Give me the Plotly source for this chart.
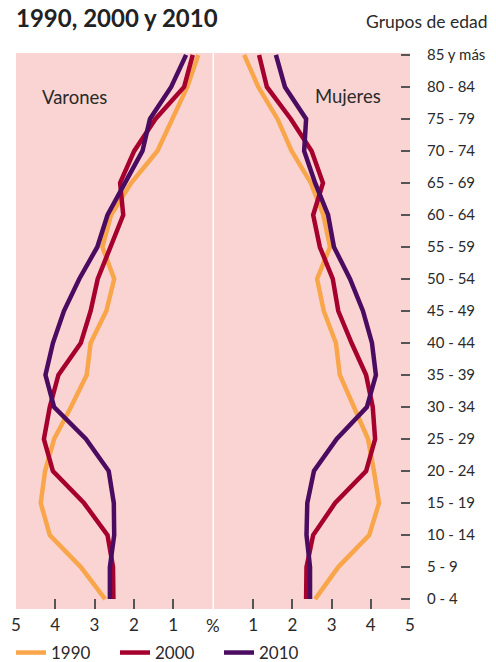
import plotly.graph_objects as go

# grupos de edad (de abajo hacia arriba)
grupos = ['0 - 4', '5 - 9', '10 - 14', '15 - 19', '20 - 24', '25 - 29', '30 - 34',
          '35 - 39', '40 - 44', '45 - 49', '50 - 54', '55 - 59', '60 - 64',
          '65 - 69', '70 - 74', '75 - 79', '80 - 84', '85 y más']

# porcentajes
varones_1990 = [2.73, 3.35, 4.14, 4.37, 4.26, 4.03, 3.60, 3.20, 3.10, 2.70, 2.50, 2.80, 2.58, 2.07, 1.40, 1.02, 0.64, 0.36]
varones_2000 = [2.52, 2.53, 2.67, 3.27, 4.06, 4.29, 4.14, 3.92, 3.35, 3.10, 2.92, 2.58, 2.27, 2.35, 1.99, 1.45, 0.72, 0.50]
varones_2010 = [2.61, 2.61, 2.50, 2.51, 2.64, 3.22, 4.03, 4.25, 4.06, 3.78, 3.39, 2.93, 2.67, 2.24, 1.78, 1.59, 1.05, 0.67]

mujeres_1990 = [2.58, 3.17, 3.96, 4.21, 4.08, 3.93, 3.57, 3.21, 3.11, 2.80, 2.63, 2.96, 2.79, 2.47, 1.98, 1.62, 1.13, 0.77]
mujeres_2000 = [2.35, 2.36, 2.53, 3.09, 3.88, 4.11, 4.05, 3.88, 3.51, 3.17, 3.03, 2.70, 2.53, 2.78, 2.49, 1.96, 1.35, 1.15]
mujeres_2010 = [2.45, 2.45, 2.36, 2.38, 2.55, 3.13, 3.90, 4.13, 4.03, 3.80, 3.47, 3.06, 2.91, 2.58, 2.30, 2.35, 1.81, 1.58]

anios = ['1990', '2000', '2010']
colores = ['#F9A64B', '#A6002F', '#4A0B60']
varones = [varones_1990, varones_2000, varones_2010]
mujeres = [mujeres_1990, mujeres_2000, mujeres_2010]

FONT = 'Lato'
TXT = '#2a2a2a'

fig = go.Figure()

for anio, col, v, m in zip(anios, colores, varones, mujeres):
    fig.add_trace(go.Scatter(x=v, y=grupos, mode='lines', name=anio,
                             line=dict(color=col, width=4.5), legendgroup=anio,
                             xaxis='x', yaxis='y'))
    fig.add_trace(go.Scatter(x=m, y=grupos, mode='lines', name=anio,
                             line=dict(color=col, width=4.5), legendgroup=anio,
                             showlegend=False, xaxis='x2', yaxis='y2'))

ejex = dict(showgrid=False, zeroline=False, showline=False, ticks='inside',
            ticklen=10, tickwidth=1.5, tickcolor='#555', automargin=False,
            tickfont=dict(size=17, color=TXT, family=FONT), ticklabelstandoff=4)

# la pagina deja 8px de margen en el body, por eso los margenes van corridos
fig.update_layout(
    width=496, height=662,
    margin=dict(l=8, r=94, t=45, b=61),
    paper_bgcolor='white', plot_bgcolor='#F9D4D3',
    font=dict(family=FONT, color=TXT),
    xaxis=dict(domain=[0, 0.4985], range=[5, 0], tickvals=[5, 4, 3, 2, 1], **ejex),
    xaxis2=dict(domain=[0.5025, 1], range=[0, 5], tickvals=[1, 2, 3, 4, 5], **ejex),
    yaxis=dict(type='category', categoryarray=grupos, range=[-0.31, 17.06],
               showgrid=False, zeroline=False, showticklabels=False, ticks='',
               automargin=False),
    yaxis2=dict(type='category', categoryarray=grupos, range=[-0.31, 17.06],
                anchor='x2', side='right', showgrid=False, zeroline=False,
                ticks='inside', ticklen=9, tickwidth=1.5, tickcolor='#555',
                automargin=False,
                tickfont=dict(size=15, color=TXT, family=FONT), ticklabelstandoff=16),
    legend=dict(orientation='h', xref='container', yref='container',
                x=0.006, xanchor='left', y=0.0257, yanchor='middle',
                font=dict(size=17, color=TXT, family=FONT), entrywidth=59),
    showlegend=True,
)

fig.add_annotation(text='<b>1990, 2000 y 2010</b>', xref='paper', yref='paper',
                   x=-0.005, y=1.0636, xanchor='left', yanchor='middle', showarrow=False,
                   font=dict(size=24, color='#222', family=FONT))
fig.add_annotation(text='Grupos de edad', xref='paper', yref='paper',
                   x=1.203, y=1.056, xanchor='right', yanchor='middle', showarrow=False,
                   font=dict(size=17.5, color=TXT, family=FONT))
fig.add_annotation(text='Varones', xref='paper', yref='paper',
                   x=0.061, y=0.921, xanchor='left', yanchor='middle', showarrow=False,
                   font=dict(size=18.5, color=TXT, family=FONT))
fig.add_annotation(text='Mujeres', xref='paper', yref='paper',
                   x=0.7534, y=0.923, xanchor='left', yanchor='middle', showarrow=False,
                   font=dict(size=18.5, color=TXT, family=FONT))
fig.add_annotation(text='%', xref='paper', yref='paper',
                   x=0.5, y=-0.029, xanchor='center', yanchor='middle', showarrow=False,
                   font=dict(size=17, color=TXT, family=FONT))

fig.write_html('out.html')
